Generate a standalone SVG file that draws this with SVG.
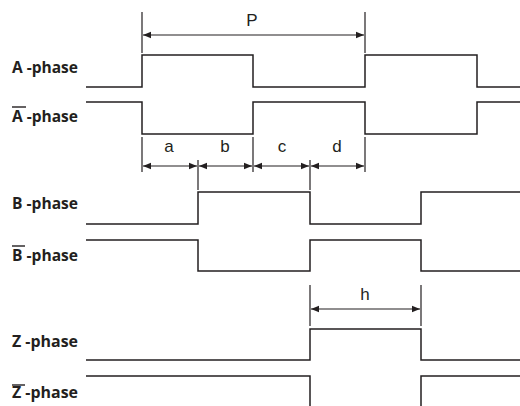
<svg xmlns="http://www.w3.org/2000/svg" width="520" height="406" viewBox="0 0 520 406">
<defs>
<marker id="ah" viewBox="0 0 10 10" refX="10" refY="5" markerWidth="8" markerHeight="8" markerUnits="userSpaceOnUse" orient="auto-start-reverse">
<path d="M0,1 L10,5 L0,9 Z" fill="#231f20"/>
</marker>
<style>
.w{fill:none;stroke:#231f20;stroke-width:1.5}
.d{fill:none;stroke:#231f20;stroke-width:1.2}
.a{fill:none;stroke:#231f20;stroke-width:1.2;marker-start:url(#ah);marker-end:url(#ah)}
.lb{font-family:"Open Sans","Liberation Sans",sans-serif;font-weight:bold;font-size:16px;fill:#231f20}
.dl{font-family:"Liberation Sans",Arial,sans-serif;font-size:17px;fill:#231f20;text-anchor:middle}
.ol{stroke:#231f20;stroke-width:1.4}
</style>
</defs>
<rect width="520" height="406" fill="#fff"/>
<g id="labels">
<g id="label-A"><text class="lb" x="12" y="73" textLength="66" lengthAdjust="spacingAndGlyphs">A -phase</text></g>
<g id="label-Abar"><text class="lb" x="12" y="122" textLength="66" lengthAdjust="spacingAndGlyphs">A -phase</text><line class="ol" x1="12" y1="107" x2="26" y2="107"/></g>
<g id="label-B"><text class="lb" x="12" y="209" textLength="66" lengthAdjust="spacingAndGlyphs">B -phase</text></g>
<g id="label-Bbar"><text class="lb" x="12" y="261" textLength="66" lengthAdjust="spacingAndGlyphs">B -phase</text><line class="ol" x1="12" y1="246" x2="25" y2="246"/></g>
<g id="label-Z"><text class="lb" x="12" y="347" textLength="66" lengthAdjust="spacingAndGlyphs">Z -phase</text></g>
<g id="label-Zbar"><text class="lb" x="12" y="398" textLength="66" lengthAdjust="spacingAndGlyphs">Z -phase</text><line class="ol" x1="12" y1="385" x2="25" y2="385"/></g>
</g>
<g id="waveforms">
<g id="wave-A"><polyline class="w" points="86,87 142,87 142,55 253,55 253,87 365,87 365,55 477,55 477,87 520,87"/></g>
<g id="wave-Abar"><polyline class="w" points="86,102 142,102 142,134 253,134 253,102 365,102 365,134 477,134 477,102 520,102"/></g>
<g id="wave-B"><polyline class="w" points="86,224 198,224 198,192 310,192 310,224 421,224 421,192 520,192"/></g>
<g id="wave-Bbar"><polyline class="w" points="86,240 198,240 198,271 310,271 310,240 421,240 421,271 520,271"/></g>
<g id="wave-Z"><polyline class="w" points="86,360 310,360 310,329 421,329 421,360 520,360"/></g>
<g id="wave-Zbar"><polyline class="w" points="86,376 310,376 310,406"/><polyline class="w" points="421,406 421,376 520,376"/></g>
</g>
<g id="connectors">
<line class="d" x1="142" y1="12" x2="142" y2="53"/>
<line class="d" x1="365" y1="12" x2="365" y2="53"/>
<line class="a" x1="143" y1="35" x2="364" y2="35"/>
<line class="d" x1="142" y1="137" x2="142" y2="172"/>
<line class="d" x1="198" y1="160" x2="198" y2="190"/>
<line class="d" x1="253" y1="137" x2="253" y2="172"/>
<line class="d" x1="310" y1="160" x2="310" y2="190"/>
<line class="d" x1="365" y1="137" x2="365" y2="172"/>
<line class="a" x1="143" y1="166" x2="197" y2="166"/>
<line class="a" x1="199" y1="166" x2="252" y2="166"/>
<line class="a" x1="254" y1="166" x2="309" y2="166"/>
<line class="a" x1="311" y1="166" x2="364" y2="166"/>
<line class="d" x1="310" y1="285" x2="310" y2="326"/>
<line class="d" x1="421" y1="285" x2="421" y2="326"/>
<line class="a" x1="311" y1="309" x2="420" y2="309"/>
</g>
<g id="dim-labels">
<text class="dl" x="252" y="26" font-size="18">P</text>
<text class="dl" x="169" y="152">a</text>
<text class="dl" x="225" y="152">b</text>
<text class="dl" x="282" y="152">c</text>
<text class="dl" x="337" y="152">d</text>
<text class="dl" x="365" y="300">h</text>
</g>
</svg>
